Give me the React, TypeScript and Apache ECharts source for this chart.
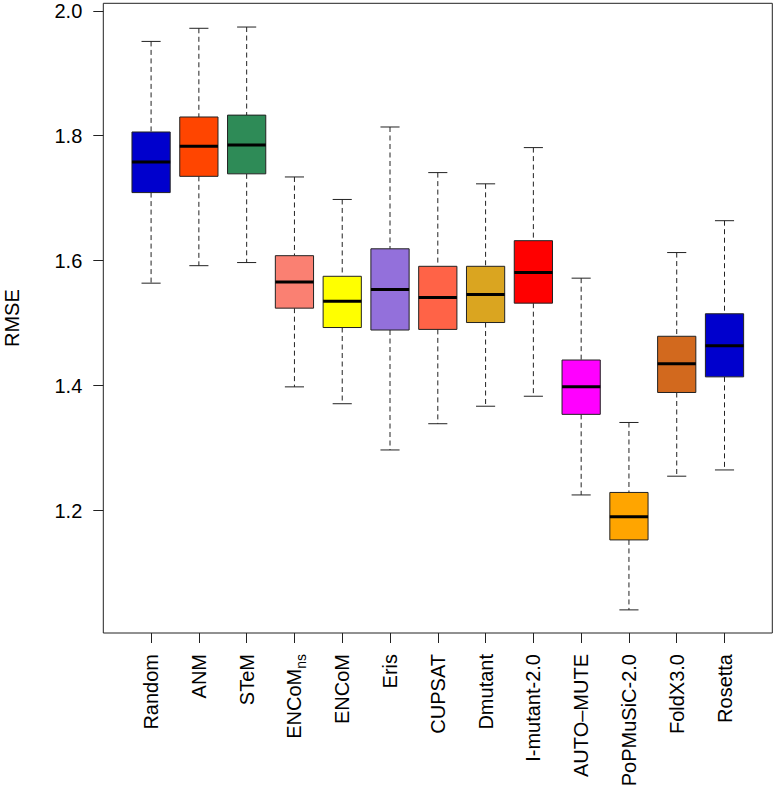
import React, { useEffect, useRef } from "react";
import * as echarts from "echarts";

const categories = [
  "Random", "ANM", "STeM", "ENCoMns", "ENCoM", "Eris", "CUPSAT",
  "Dmutant", "I-mutant-2.0", "AUTO\u2013MUTE", "PoPMuSiC-2.0", "FoldX3.0", "Rosetta",
];
const lowerWhisker = [1.564, 1.592, 1.597, 1.398, 1.371, 1.297, 1.339, 1.367, 1.383, 1.225, 1.041, 1.255, 1.265];
const q1 = [1.709, 1.735, 1.739, 1.524, 1.493, 1.489, 1.490, 1.501, 1.532, 1.354, 1.153, 1.389, 1.414];
const median = [1.758, 1.783, 1.785, 1.566, 1.535, 1.554, 1.541, 1.546, 1.581, 1.398, 1.190, 1.435, 1.464];
const q3 = [1.806, 1.830, 1.833, 1.608, 1.575, 1.619, 1.591, 1.591, 1.632, 1.441, 1.229, 1.479, 1.515];
const upperWhisker = [1.951, 1.972, 1.974, 1.734, 1.698, 1.814, 1.741, 1.723, 1.781, 1.572, 1.341, 1.613, 1.664];
const boxColors = [
  "#0000CD", "#FF4500", "#2E8B57", "#FA8072", "#FFFF00", "#9370DB", "#FF6347",
  "#DAA520", "#FF0000", "#FF00FF", "#FFA500", "#D2691E", "#0000CD",
];
const yTicks = [1.2, 1.4, 1.6, 1.8, 2.0];
const yMin = 1.004;
const yMax = 2.012;

const FONT = "Liberation Sans";
const FS = 20;

export default function App() {
  const ref = useRef<HTMLDivElement>(null);

  useEffect(() => {
    if (!ref.current) return;
    const chart = echarts.init(ref.current, null, { renderer: "svg" });
    const positions = categories.map((_, i) => i + 1);
    const data = categories.map((_, i) => [
      i + 1, lowerWhisker[i], q1[i], median[i], q3[i], upperWhisker[i],
    ]);

    const option: any = {
      animation: false,
      backgroundColor: "#fff",
      textStyle: { fontFamily: FONT, fontSize: FS },
      grid: {
        left: 103.3,
        right: 4.7,
        top: 3.3,
        bottom: 164,
        containLabel: false,
        outerBoundsMode: "none",
        show: true,
        borderColor: "#222",
        borderWidth: 1,
        backgroundColor: "transparent",
      },
      xAxis: {
        type: "value",
        min: 0,
        max: 14,
        axisLine: { show: false },
        splitLine: { show: false },
        axisTick: {
          show: true,
          length: 10,
          customValues: positions,
          lineStyle: { color: "#222", width: 1 },
        },
        axisLabel: {
          customValues: positions,
          rotate: 90,
          margin: 21,
          color: "#000",
          fontSize: FS,
          fontFamily: FONT,
          hideOverlap: false,
          formatter: (v: number) => {
            const c = categories[Math.round(v) - 1];
            if (c === "ENCoMns") return "{m|ENCoM}{s|ns}";
            return c;
          },
          rich: {
            m: { fontSize: FS, fontFamily: FONT, color: "#000", lineHeight: 28 },
            s: { fontSize: 14, fontFamily: FONT, color: "#000", lineHeight: 14, verticalAlign: "bottom" },
          },
        },
      },
      yAxis: {
        type: "value",
        min: yMin,
        max: yMax,
        name: "RMSE",
        nameLocation: "middle",
        nameGap: 81,
        nameTextStyle: { fontSize: FS, fontFamily: FONT, color: "#000" },
        axisLine: { show: false },
        splitLine: { show: false },
        axisTick: {
          show: true,
          length: 10,
          customValues: yTicks,
          lineStyle: { color: "#222", width: 1 },
        },
        axisLabel: {
          customValues: yTicks,
          margin: 21,
          color: "#000",
          fontSize: FS,
          fontFamily: FONT,
          formatter: (v: number) => v.toFixed(1),
        },
      },
      series: [
        {
          type: "custom",
          data,
          clip: false,
          renderItem: (params: any, api: any) => {
            const x = api.value(0);
            const pLo = api.coord([x, api.value(1)]);
            const pQ1 = api.coord([x, api.value(2)]);
            const pMed = api.coord([x, api.value(3)]);
            const pQ3 = api.coord([x, api.value(4)]);
            const pHi = api.coord([x, api.value(5)]);
            const bw = api.size([0.8, 0])[0];
            const cx = pMed[0];
            const half = bw / 2;
            const capHalf = bw / 4;
            const color = boxColors[params.dataIndex];
            const dash = { stroke: "#222", lineWidth: 1, lineDash: [5, 3.5] };
            const solid = { stroke: "#222", lineWidth: 1 };
            return {
              type: "group",
              children: [
                { type: "line", shape: { x1: cx, y1: pHi[1], x2: cx, y2: pQ3[1] }, style: dash },
                { type: "line", shape: { x1: cx, y1: pQ1[1], x2: cx, y2: pLo[1] }, style: dash },
                { type: "line", shape: { x1: cx - capHalf, y1: pHi[1], x2: cx + capHalf, y2: pHi[1] }, style: solid },
                { type: "line", shape: { x1: cx - capHalf, y1: pLo[1], x2: cx + capHalf, y2: pLo[1] }, style: solid },
                {
                  type: "rect",
                  shape: { x: cx - half, y: pQ3[1], width: bw, height: pQ1[1] - pQ3[1] },
                  style: { fill: color, stroke: "#222", lineWidth: 1 },
                },
                {
                  type: "line",
                  shape: { x1: cx - half, y1: pMed[1], x2: cx + half, y2: pMed[1] },
                  style: { stroke: "#000", lineWidth: 3 },
                },
              ],
            };
          },
        },
      ],
    };

    chart.setOption(option);
    return () => chart.dispose();
  }, []);

  return (
    <div
      ref={ref}
      style={{ position: "fixed", left: 0, top: 0, width: 777, height: 797 }}
    />
  );
}
